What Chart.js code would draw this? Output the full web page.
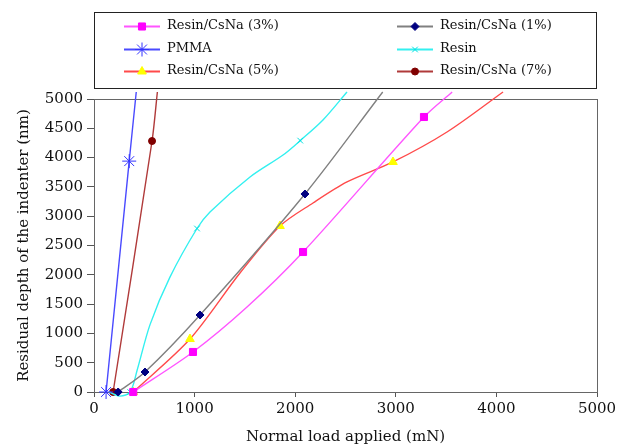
<!DOCTYPE html>
<html>
<head>
<meta charset="utf-8">
<script src="https://cdn.jsdelivr.net/npm/chart.js@4.4.1/dist/chart.umd.min.js"></script>
<style>
  body { margin: 0; background: #fff; }
  canvas { display: block; }
</style>
</head>
<body>
<canvas id="chart" width="621" height="446"></canvas>
<script>
// values: load (mN) vs residual depth (nm)
var c3Load = [390, 984, 1521, 2078, 3280, 3560];
var c3Depth = [0, 683, 1450, 2389, 4693, 5120];
var c3Marks = [0, 1, 3, 4];

var c1Load = [240, 507, 1054, 2097, 2870];
var c1Depth = [0, 341, 1314, 3379, 5120];
var c1Marks = [0, 1, 2, 3];

var pmmaLoad = [120, 350, 420];
var pmmaDepth = [0, 3940, 5120];
var pmmaMarks = [0, 1];

var resinLoad = [150, 260, 360, 430, 557, 755, 1024, 1153, 1551, 1879, 2050, 2276, 2515];
var resinDepth = [0, -70, 0, 380, 1150, 1960, 2790, 3072, 3669, 4044, 4290, 4642, 5120];
var resinMarks = [2, 6, 10];

var c5Load = [390, 954, 1451, 1849, 2177, 2515, 2972, 3509, 4066];
var c5Depth = [0, 904, 2030, 2833, 3225, 3584, 3925, 4437, 5120];
var c5Marks = [0, 1, 3, 6];

var c7Load = [190, 577, 630];
var c7Depth = [0, 4283, 5120];
var c7Marks = [0, 1];

var xTicks = [0, 1000, 2000, 3000, 4000, 5000];
var yTicks = [0, 500, 1000, 1500, 2000, 2500, 3000, 3500, 4000, 4500, 5000];

var FONT = "'DejaVu Serif', serif";

var makeSeries = function (label, xs, ys, marks, style) {
    return {
        label: label,
        data: xs.map(function (x, i) { return {x: x, y: ys[i]}; }),
        borderColor: style.line,
        borderWidth: 1.4,
        backgroundColor: style.fill,
        pointBackgroundColor: style.fill,
        pointBorderColor: style.mark,
        pointBorderWidth: 1,
        pointStyle: style.shape,
        pointRadius: function (c) { return marks.indexOf(c.dataIndex) >= 0 ? style.r : 0; },
        pointHoverRadius: 0,
        tension: 0.3,
        clip: false,
        legendR: style.r
    };
};

var datasets = [
    makeSeries('Resin/CsNa (3%)', c3Load, c3Depth, c3Marks, {line: '#ff55ff', fill: '#ff00ff', mark: '#ff00ff', shape: 'rect', r: 5}),
    makeSeries('Resin/CsNa (1%)', c1Load, c1Depth, c1Marks, {line: '#808080', fill: '#000080', mark: '#000080', shape: 'rectRot', r: 4}),
    makeSeries('PMMA', pmmaLoad, pmmaDepth, pmmaMarks, {line: '#4a4aff', fill: '#3333ff', mark: '#3333ff', shape: 'star', r: 7}),
    makeSeries('Resin', resinLoad, resinDepth, resinMarks, {line: '#33f0f0', fill: '#00e0e0', mark: '#00e0e0', shape: 'crossRot', r: 4}),
    makeSeries('Resin/CsNa (5%)', c5Load, c5Depth, c5Marks, {line: '#ff4a4a', fill: '#ffff00', mark: '#ffff00', shape: 'triangle', r: 5}),
    makeSeries('Resin/CsNa (7%)', c7Load, c7Depth, c7Marks, {line: '#b03a3a', fill: '#800000', mark: '#800000', shape: 'circle', r: 3.5})
];

// the two-column boxed legend above the plot, and the grey frame round the plot
var boxLegend = {
    id: 'boxLegend',
    beforeDatasetsDraw: function (chart) {
        var ctx = chart.ctx, a = chart.chartArea;
        ctx.save();
        ctx.strokeStyle = '#666';
        ctx.lineWidth = 1;
        ctx.strokeRect(a.left + 0.5, a.top + 0.5, a.right - a.left, a.bottom - a.top);
        ctx.restore();
    },
    afterDraw: function (chart) {
        var ctx = chart.ctx;
        var rows = [26, 49, 71];
        ctx.save();
        ctx.strokeStyle = '#222';
        ctx.lineWidth = 1;
        ctx.strokeRect(94.5, 12.5, 502, 76);
        ctx.font = '13px ' + FONT;
        ctx.textBaseline = 'middle';
        ctx.textAlign = 'left';
        chart.data.datasets.forEach(function (ds, i) {
            var x0 = (i % 2) ? 397 : 124;
            var y = rows[Math.floor(i / 2)];
            ctx.strokeStyle = ds.borderColor;
            ctx.lineWidth = 2;
            ctx.beginPath();
            ctx.moveTo(x0, y + 0.5);
            ctx.lineTo(x0 + 36, y + 0.5);
            ctx.stroke();
            ctx.lineWidth = 1;
            ctx.fillStyle = ds.pointBackgroundColor;
            ctx.strokeStyle = ds.pointBorderColor;
            Chart.helpers.drawPoint(ctx, {pointStyle: ds.pointStyle, radius: ds.legendR, borderWidth: 1, rotation: 0}, x0 + 18, y + 0.5);
            ctx.fillStyle = '#111';
            ctx.fillText(ds.label, (i % 2) ? 440 : 167, y);
        });
        ctx.restore();
    }
};

var plain = function (v) { return String(v); };

var ctx = document.getElementById('chart').getContext('2d');

new Chart(ctx, {
    type: 'line',
    data: {datasets: datasets},
    plugins: [boxLegend],
    options: {
        responsive: false,
        animation: false,
        layout: {padding: {top: 99, right: 24, left: 0, bottom: 0}},
        plugins: {legend: {display: false}, tooltip: {enabled: false}},
        scales: {
            x: {
                type: 'linear',
                min: 0,
                max: 5000,
                afterBuildTicks: function (s) { s.ticks = xTicks.map(function (v) { return {value: v}; }); },
                afterFit: function (s) { s.height = 54; },
                grid: {drawOnChartArea: false, drawTicks: true, tickLength: 5, color: '#555'},
                border: {color: '#555'},
                ticks: {color: '#111', padding: 3, maxRotation: 0, callback: plain, font: {family: FONT, size: 15}},
                title: {display: true, text: 'Normal load applied (mN)', color: '#111', padding: {top: 0, bottom: 0}, font: {family: FONT, size: 15}}
            },
            y: {
                min: 0,
                max: 5000,
                afterBuildTicks: function (s) { s.ticks = yTicks.map(function (v) { return {value: v}; }); },
                afterFit: function (s) { s.width = 94; },
                grid: {drawOnChartArea: false, drawTicks: true, tickLength: 7, color: '#555'},
                border: {color: '#555'},
                ticks: {color: '#111', padding: 4, callback: plain, font: {family: FONT, size: 15}},
                title: {display: true, text: 'Residual depth of the indenter (nm)', color: '#111', padding: {top: 15, bottom: 0}, font: {family: FONT, size: 15}}
            }
        }
    }
});
</script>
</body>
</html>
